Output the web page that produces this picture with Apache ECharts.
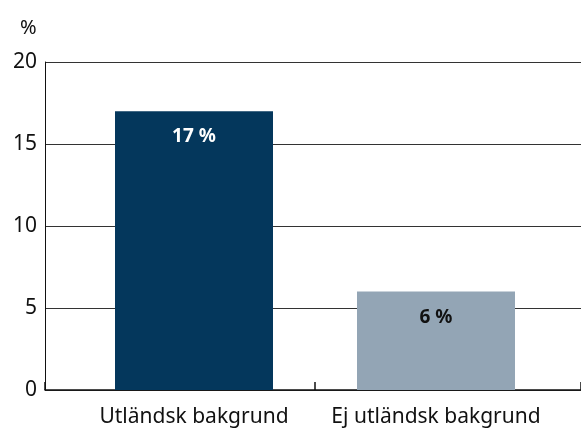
<!DOCTYPE html>
<html lang="sv">
<head>
<meta charset="UTF-8">
<title>Utländsk bakgrund</title>
<script src="https://cdn.jsdelivr.net/npm/echarts@6/dist/echarts.min.js"></script>
<style>
  html, body { margin: 0; padding: 0; background: #fff; }
  #chart { width: 581px; height: 430px; }
</style>
</head>
<body>
<div id="chart"></div>
<script>
    var categories = ['Utländsk bakgrund', 'Ej utländsk bakgrund'];
    var values = [17, 6];
    var barColors = ['#04375c', '#93a5b5'];
    var labelColors = ['#ffffff', '#111111'];
    var yTicks = { min: 0, max: 20, interval: 5 };

    var font = '"Noto Sans", "Open Sans", sans-serif';
    var chart = echarts.init(document.getElementById('chart'));

    chart.setOption({
        animation: false,
        textStyle: { fontFamily: font },
        title: {
            text: '%', left: 15, top: 13,
            textStyle: { fontSize: 20, fontWeight: 'normal', color: '#111', fontFamily: font }
        },
        grid: [
            { left: 45, right: 0, top: 62, bottom: 40 },
            { left: 73, right: 24, top: 62, bottom: 40 }
        ],
        xAxis: [
            {
                // frame axis: baseline plus the separator tick between the two bars
                gridIndex: 0, type: 'value', min: 0, max: 536, interval: 270,
                axisLine: { show: true, lineStyle: { color: '#111', width: 1.5 } },
                axisTick: { show: true, inside: true, length: 8, lineStyle: { color: '#111', width: 1.5 } },
                axisLabel: { show: false }, splitLine: { show: false }
            },
            {
                gridIndex: 1, type: 'category', data: categories,
                axisLine: { show: false },
                axisTick: { show: false },
                axisLabel: { color: '#111', fontSize: 21, margin: 17, interval: 0, fontFamily: font }
            }
        ],
        yAxis: [
            {
                gridIndex: 0, type: 'value',
                min: yTicks.min, max: yTicks.max, interval: yTicks.interval,
                axisLine: { show: true, lineStyle: { color: '#111', width: 1 } },
                axisTick: { show: false },
                axisLabel: { color: '#111', fontSize: 21, margin: 8, fontFamily: font },
                splitLine: { show: true, lineStyle: { color: '#333', width: 1 } }
            },
            {
                gridIndex: 1, type: 'value',
                min: yTicks.min, max: yTicks.max, interval: yTicks.interval,
                show: false
            }
        ],
        series: [{
            type: 'bar',
            xAxisIndex: 1, yAxisIndex: 1,
            barWidth: 158,
            data: values.map(function (v, i) {
                return {
                    value: v,
                    itemStyle: { color: barColors[i] },
                    label: { color: labelColors[i] }
                };
            }),
            label: {
                show: true, position: 'insideTop', distance: 16,
                fontSize: 19, fontWeight: 'bold', fontFamily: font,
                formatter: function (p) { return p.value + ' %'; }
            }
        }]
    });
</script>
</body>
</html>
